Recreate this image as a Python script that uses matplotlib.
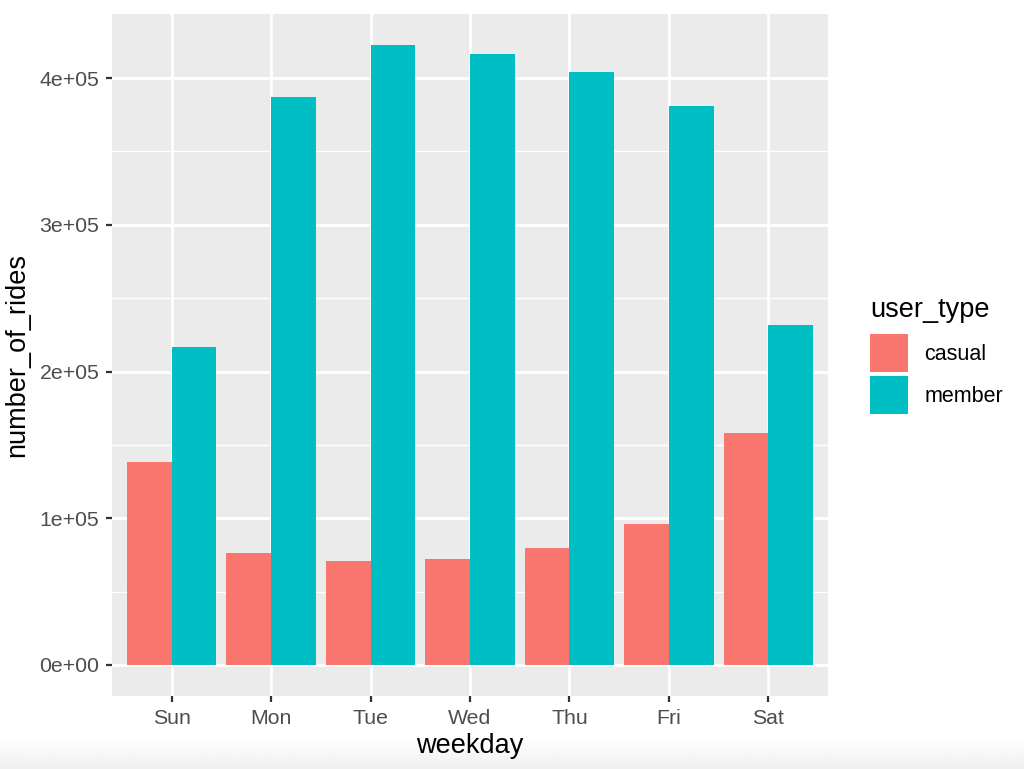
import numpy as np
import matplotlib.pyplot as plt
from matplotlib.patches import Patch
from matplotlib.ticker import MultipleLocator, FuncFormatter

plt.rcParams['font.family'] = ['Liberation Sans', 'DejaVu Sans']

## data
weekdays = ['Sun', 'Mon', 'Tue', 'Wed', 'Thu', 'Fri', 'Sat']
casual_rides = [138300, 76300, 70900, 72200, 79700, 96100, 158100]
member_rides = [216700, 387000, 422500, 416400, 404100, 380900, 231700]
user_types = ['casual', 'member']
colors = ['#F8766D', '#00BFC4']

fig = plt.figure(figsize=(10.24, 7.69), dpi=100)
ax = fig.add_axes([112/1024, 1 - 696/769, 716/1024, 682/769])

x = np.arange(1, len(weekdays) + 1)
w = 0.45
ax.bar(x - w/2, casual_rides, width=w, color=colors[0], zorder=3)
ax.bar(x + w/2, member_rides, width=w, color=colors[1], zorder=3)

# ggplot-ish panel
ax.set_facecolor('#EBEBEB')
for s in ax.spines.values():
    s.set_visible(False)
ymax = max(max(casual_rides), max(member_rides))
ax.set_ylim(-0.05 * ymax, 1.05 * ymax)
ax.set_xlim(0.4, len(weekdays) + 0.6)
ax.set_xticks(x)
ax.set_xticklabels(weekdays)
ax.yaxis.set_major_locator(MultipleLocator(100000))
ax.yaxis.set_minor_locator(MultipleLocator(50000))
ax.yaxis.set_major_formatter(FuncFormatter(lambda v, p: '%de+%02d' % (v/1e5, 5) if v else '0e+00'))
ax.grid(which='major', color='white', linewidth=2.0, zorder=0)
ax.grid(which='minor', axis='y', color='white', linewidth=1.0, zorder=0)
ax.set_axisbelow(True)
ax.tick_params(which='major', length=4, width=1.6, color='#333333', labelsize=15.3,
               labelcolor='#4D4D4D', pad=5)
ax.tick_params(which='minor', length=0)

ax.set_xlabel('weekday', fontsize=19.5, labelpad=4)
ax.set_ylabel('number_of_rides', fontsize=19.5, labelpad=7)

handles = [Patch(facecolor=c, edgecolor='none') for c in colors]
leg = fig.legend(handles, user_types, title='user_type', loc='upper left',
                 bbox_to_anchor=(857/1024, 1 - 284/769), frameon=False,
                 fontsize=15.5, title_fontsize=19.5, handlelength=1.77,
                 handleheight=2.34, labelspacing=0.2, handletextpad=0.75,
                 borderaxespad=0, borderpad=0.6)
leg._legend_box.align = 'left'
leg._legend_box.sep = 8

# faint grey fade along the bottom edge
fade = fig.add_axes([0, 0, 1, 30/769], zorder=-1)
fade.imshow(np.linspace(1.0, 0.94, 30).reshape(-1, 1), cmap='gray', vmin=0, vmax=1,
            aspect='auto', extent=[0, 1, 0, 1])
fade.axis('off')

fig.savefig('out.png', dpi=100)
